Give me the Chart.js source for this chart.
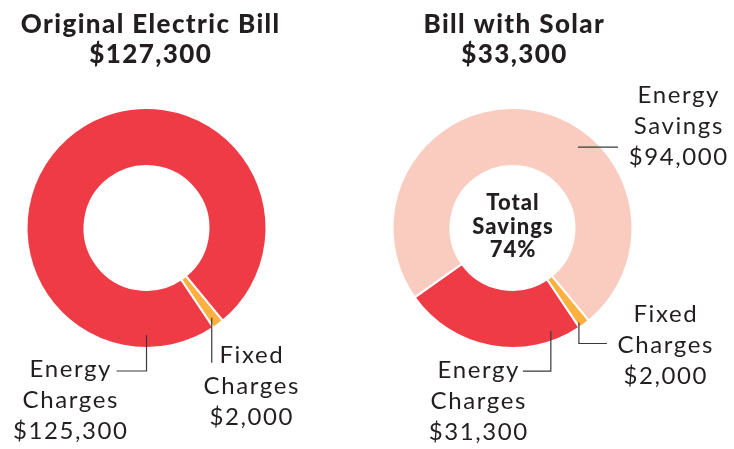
<!DOCTYPE html>
<html>
<head>
<meta charset="utf-8">
<script src="https://cdn.jsdelivr.net/npm/chart.js@4.4.1/dist/chart.umd.min.js"></script>
<style>
  html, body { margin: 0; padding: 0; background: #fff; }
  #wrap { position: relative; width: 734px; height: 449px; }
  canvas { position: absolute; top: 0; }
  #originalChart { left: 0; }
  #solarChart { left: 367px; }
</style>
</head>
<body>
<div id="wrap">
  <canvas id="originalChart" width="367" height="449"></canvas>
  <canvas id="solarChart" width="367" height="449"></canvas>
</div>
<script>
const categories = ["Fixed Charges", "Energy Charges", "Energy Savings"];
const originalValues = [2000, 125300];
const solarValues = [2000, 31300, 94000];
const chartTitles = ["Original Electric Bill", "Bill with Solar"];
const centerText = ["Total", "Savings"];

const sliceColors = ["#FBB040", "#EE3B45", "#F9CCBF"];
const ink = "#231F20";
const money = v => "$" + v.toLocaleString("en-US");
const sum = arr => arr.reduce((a, b) => a + b, 0);

// text with letter spacing, still centred on x
function spacedText(ctx, text, x, y, spacing) {
  ctx.letterSpacing = spacing + "px";
  ctx.fillText(text, x + spacing / 2, y);
}

// draws titles, callout labels with leader lines and the centre text
const calloutPlugin = {
  id: "callouts",
  afterDraw(chart, args, opts) {
    const ctx = chart.ctx;
    const first = chart.getDatasetMeta(0).data[0];
    const cx = first.x, cy = first.y;
    const values = chart.data.datasets[0].data;
    ctx.save();
    ctx.fillStyle = ink;
    ctx.textAlign = "center";
    ctx.textBaseline = "alphabetic";

    ctx.font = "900 26px Lato";
    opts.title.forEach((t, i) => spacedText(ctx, t, opts.titleX, 33 + i * 30, 1.4));

    ctx.strokeStyle = "#3a3a3a";
    ctx.lineWidth = 1.2;
    ctx.font = "24px Lato";
    opts.items.forEach(it => {
      const a = (it.angle - 90) * Math.PI / 180;
      const x = cx + Math.cos(a) * it.r;
      const y = cy + Math.sin(a) * it.r;
      ctx.beginPath();
      ctx.moveTo(x, y);
      it.path.forEach(([dx, dy]) => ctx.lineTo(x + dx, y + dy));
      ctx.stroke();
      const lines = chart.data.labels[it.index].split(" ").concat(money(values[it.index]));
      lines.forEach((l, k) => spacedText(ctx, l, it.x, it.y + k * 31, 1.6));
    });

    if (opts.center) {
      ctx.font = "900 22px Lato";
      opts.center.forEach((l, k) => spacedText(ctx, l, cx, cy - 18 + k * 23.5, 1));
    }
    ctx.restore();
  }
};

function makeChart(id, values, pad, callouts) {
  return new Chart(document.getElementById(id), {
    type: "doughnut",
    data: {
      labels: categories.slice(0, values.length),
      datasets: [{
        data: values,
        backgroundColor: sliceColors.slice(0, values.length),
        borderColor: "#ffffff",
        borderWidth: 2,
      }],
    },
    options: {
      responsive: false,
      animation: false,
      rotation: 140.5,
      radius: 120,
      cutout: 62,
      layout: { padding: pad },
      plugins: {
        legend: { display: false },
        tooltip: { enabled: false },
        callouts: callouts,
      },
    },
    plugins: [calloutPlugin],
  });
}

makeChart("originalChart", originalValues,
  { left: 25.5, right: 99.5, top: 107, bottom: 100 },
  {
    title: [chartTitles[0], money(sum(originalValues))],
    titleX: 150,
    items: [
      { index: 1, angle: 180, r: 107, path: [[0, 36], [-30, 36]], x: 70, y: 377 },
      { index: 0, angle: 144, r: 111, path: [[0, 45]], x: 251, y: 363 },
    ],
  });

const savingsPct = Math.round(solarValues[2] / sum(solarValues) * 100);

makeChart("solarChart", solarValues,
  { left: 24.5, right: 100.5, top: 107, bottom: 100 },
  {
    title: [chartTitles[1], money(sum(solarValues) - solarValues[2])],
    titleX: 146.7,
    items: [
      { index: 1, angle: 159.6, r: 110, path: [[0, 40], [-28, 40]], x: 111, y: 378 },
      { index: 0, angle: 144.9, r: 115.5, path: [[0, 21], [28, 21]], x: 298, y: 322 },
      { index: 2, angle: 39, r: 104, path: [[40, 0]], x: 311, y: 103 },
    ],
    center: centerText.concat(savingsPct + "%"),
  });
</script>
</body>
</html>
